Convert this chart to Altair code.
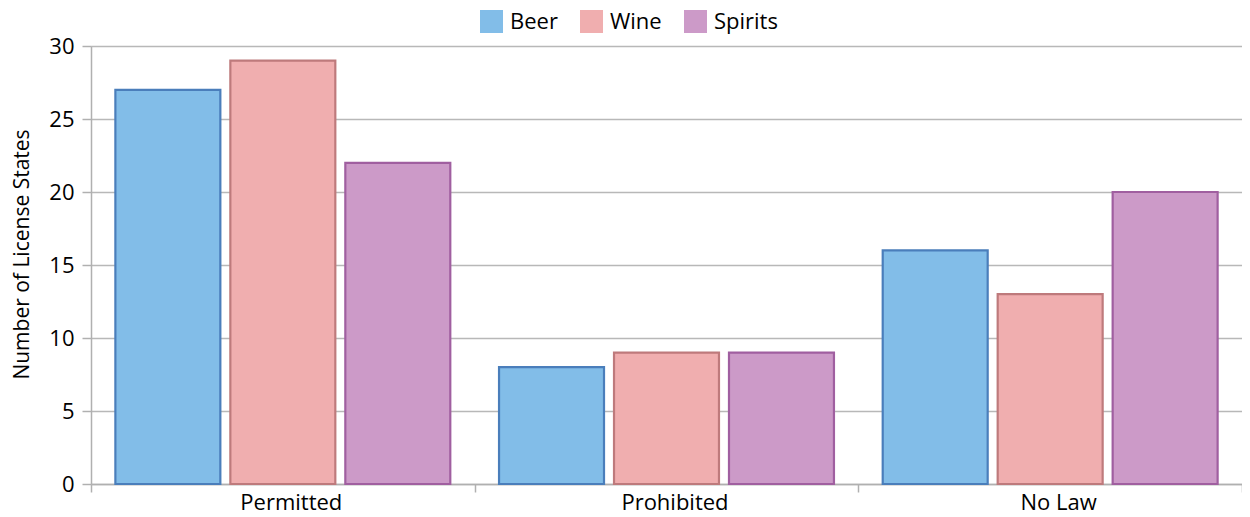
import altair as alt
import pandas as pd

categories = ["Permitted", "Prohibited", "No Law"]
series = ["Beer", "Wine", "Spirits"]
beer = [27, 8, 16]
wine = [29, 9, 13]
spirits = [22, 9, 20]

fills = ["#82BDE8", "#F0AEAF", "#CC9AC8"]
strokes = ["#4A7EBB", "#BE7A7C", "#A05FA0"]

rows = []
for name, vals in zip(series, [beer, wine, spirits]):
    for c, v in zip(categories, vals):
        rows.append({"category": c, "type": name, "value": v})
df = pd.DataFrame(rows)

FONT = "Open Sans"

chart = alt.Chart(df).mark_bar(strokeWidth=2.2).encode(
    x=alt.X("category:N", sort=categories, title=None,
            scale=alt.Scale(paddingInner=0, paddingOuter=0),
            axis=alt.Axis(labelAngle=0, tickBand="extent", domainColor="#b0b0b0",
                          tickColor="#b0b0b0", tickSize=8, tickWidth=1.5, domainWidth=1.5,
                          labelFontSize=22, labelColor="#000000", labelPadding=0,
                          labelOffset=8, labelFont=FONT, grid=False)),
    xOffset=alt.XOffset("type:N", sort=series,
                        scale=alt.Scale(paddingInner=0.087, paddingOuter=0.212)),
    y=alt.Y("value:Q", title="Number of License States",
            scale=alt.Scale(domain=[0, 30], nice=False),
            axis=alt.Axis(values=[0, 5, 10, 15, 20, 25, 30], tickSize=9, tickColor="#b0b0b0",
                          tickWidth=1.5, domainColor="#b0b0b0", domainWidth=1.5,
                          gridColor="#b8b8b8", gridWidth=1.5, labelFontSize=22,
                          labelColor="#000000", labelFont=FONT, labelPadding=8,
                          titleFont=FONT, titleFontSize=21, titleFontWeight="normal",
                          titleColor="#000000", titlePadding=16, titleY=208)),
    fill=alt.Fill("type:N", sort=series, title=None,
                  scale=alt.Scale(domain=series, range=fills),
                  legend=alt.Legend(orient="none", legendX=389, legendY=-36,
                                    direction="horizontal", symbolType="square",
                                    symbolSize=529, symbolStrokeWidth=0,
                                    labelFontSize=22, labelFont=FONT, labelColor="#000000",
                                    columnPadding=22, labelOffset=7)),
    stroke=alt.Stroke("type:N", sort=series, legend=None,
                      scale=alt.Scale(domain=series, range=strokes)),
).properties(
    width=1151, height=438,
    padding={"left": 83, "top": 38, "right": 0, "bottom": 32},
    autosize=alt.AutoSizeParams(type="none"),
).configure_view(stroke=None).configure(font=FONT)

chart.save("out.html", embed_options={"renderer": "svg", "actions": False})
